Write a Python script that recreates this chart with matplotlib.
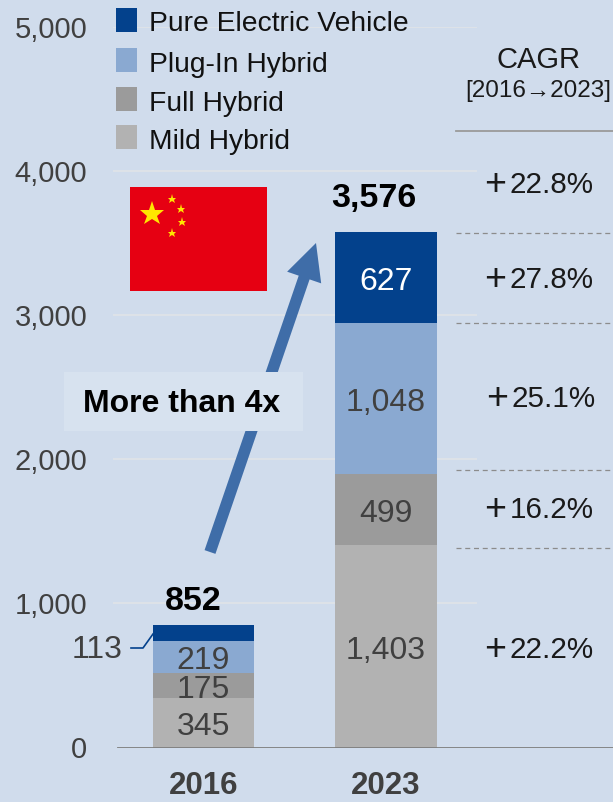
import matplotlib
matplotlib.use('Agg')
import matplotlib.pyplot as plt
from matplotlib.lines import Line2D
from matplotlib.patches import Rectangle, FancyArrow
from matplotlib.transforms import Affine2D

plt.rcParams['font.family'] = ['Liberation Sans', 'DejaVu Sans']

W, H = 613, 802
BG = '#D0DCEC'

years = ['2016', '2023']
totals = [852, 3576]
mild = [345, 1403]
full = [175, 499]
plugin = [219, 1048]
pure = [113, 627]
series_names = ['Mild Hybrid', 'Full Hybrid', 'Plug-In Hybrid', 'Pure Electric Vehicle']
series_colors = ['#B2B2B2', '#9B9B9B', '#8AA9D1', '#03418C']
text_colors = ['#404040', '#404040', '#404040', 'white']
y_ticks = [0, 1000, 2000, 3000, 4000, 5000]
cagr = ['22.8%', '27.8%', '25.1%', '16.2%', '22.2%']

fig = plt.figure(figsize=(W / 100, H / 100), dpi=100, facecolor=BG)
# pixel coordinates from the top left, for the annotations around the chart
px = Affine2D().scale(1 / W, -1 / H).translate(0, 1) + fig.transFigure

ax = fig.add_axes([113 / W, 1 - 747.5 / H, 500 / W, (747.5 - 27.3) / H])
ax.set_facecolor('none')
ax.set_xlim((113 - 203.5) / 182.5, (613 - 203.5) / 182.5)
ax.set_ylim(0, 5000)

for s in ['top', 'left', 'right', 'bottom']:
    ax.spines[s].set_visible(False)

# gridlines stop short of the CAGR column
ax.hlines(y_ticks[1:], ax.get_xlim()[0], (477 - 203.5) / 182.5, color='#DFE3E8', lw=1.3, zorder=1)
ax.axhline(0, xmin=5 / 500, color='#7F7F7F', lw=1.3, zorder=4)

# stacked bars
bottom = [0, 0]
for vals, col, tcol in zip([mild, full, plugin, pure], series_colors, text_colors):
    ax.bar([0, 1], vals, bottom=bottom, width=0.555, color=col, zorder=3)
    for i, v in enumerate(vals):
        if v == 113:
            continue
        ax.text(i, bottom[i] + v / 2 - 8, f'{v:,}', ha='center', va='center_baseline',
                fontsize=23, color=tcol, zorder=5)
    bottom = [b + v for b, v in zip(bottom, vals)]

fig.text(193, 601, f'{totals[0]:,}', transform=px, ha='center', va='center', fontsize=24.5,
         fontweight='bold', color='black')
fig.text(374, 198, f'{totals[1]:,}', transform=px, ha='center', va='center', fontsize=24.5,
         fontweight='bold', color='black')

# axis labels
ax.set_xticks([0, 1], years)
ax.set_yticks(y_ticks, [f'{v:,}' for v in y_ticks])
ax.tick_params(axis='y', length=0, pad=18.5, labelsize=21, labelcolor='#404040')
ax.tick_params(axis='x', length=0, pad=17)
for lab in ax.get_xticklabels():
    lab.set_fontsize(22.5)
    lab.set_fontweight('bold')
    lab.set_color('#404040')

# leader for the small 2016 segment
fig.add_artist(Line2D([131, 143, 153], [648, 648, 634], transform=px, color='#03418C', lw=1.2))
fig.text(122, 650, '113', transform=px, ha='right', va='center', fontsize=23, color='#404040')

# legend
swatch_top = [8, 48, 87, 125]
legend_y = [24, 65, 104, 142]
for name, col, st, y in zip(series_names[::-1], series_colors[::-1], swatch_top, legend_y):
    fig.add_artist(Rectangle((116, st), 21, 24, transform=px, color=col, lw=0))
    fig.text(149, y, name, transform=px, ha='left', va='center', fontsize=20.3, color='#111111')

# flag
fig.add_artist(Rectangle((130, 187), 137, 104, transform=px, color='#E60012', lw=0))
star_x = [152, 172, 181, 182, 172]
star_y = [214, 199, 209, 222, 233]
star_ms = [18.5, 6.5, 6.5, 6.5, 6.5]
for x, y, ms in zip(star_x, star_y, star_ms):
    fig.add_artist(Line2D([x], [y], transform=px, marker='*', ms=ms, color='#FFE600', mew=0, ls=''))

# growth arrow
fig.add_artist(FancyArrow(210, 552, 106, -309, width=11.5, head_width=36, head_length=36.5,
                          length_includes_head=True, transform=px, color='#3F6DA8', lw=0))
fig.add_artist(Rectangle((64, 372), 239, 59, transform=px, color='#D7E2EF', lw=0))
fig.text(182, 404, 'More than 4x', transform=px, ha='center', va='center', fontsize=23,
         fontweight='bold', color='black')

# CAGR column
fig.text(538, 60, 'CAGR', transform=px, ha='center', va='center', fontsize=21, color='#1A1A1A')
fig.text(538.5, 91, '[2016→2023]', transform=px, ha='center', va='center', fontsize=17.5, color='#1A1A1A')
fig.add_artist(Line2D([456, 613], [131, 131], transform=px, color='#9A9A9A', lw=1.3))
for y in [233, 323, 470, 548]:
    fig.add_artist(Line2D([456, 613], [y, y], transform=px, color='#8C8C8C', lw=0.9, ls=(0, (4, 3))))
cagr_x = [484, 484, 486, 484, 484]
cagr_y = [185, 280, 399, 510, 650]
for val, x, y in zip(cagr, cagr_x, cagr_y):
    fig.text(x, y, '+', transform=px, ha='left', va='center', fontsize=27, color='#1A1A1A')
    fig.text(x + 25.5, y, val, transform=px, ha='left', va='center', fontsize=21.3, color='#1A1A1A')

fig.savefig('out.png', dpi=100, facecolor=BG)
